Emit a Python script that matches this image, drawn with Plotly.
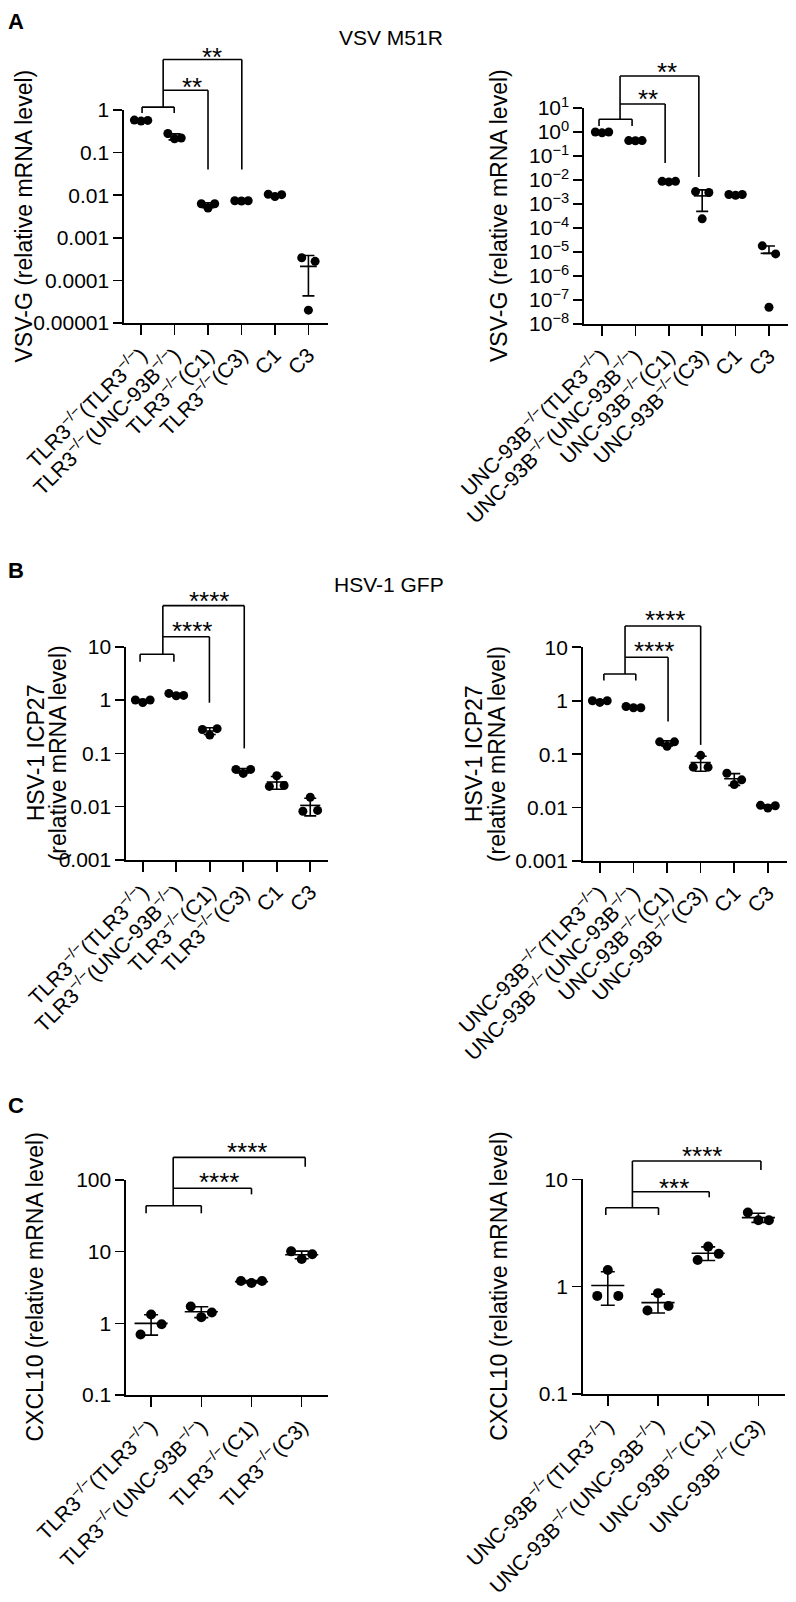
import numpy as np
import plotly.graph_objects as go

W, H = 796, 1602
FONT = "Liberation Sans, Arial, Helvetica, sans-serif"
INK = "black"
LW = 1.6

# ---------------- data ----------------
SUP = "<sup>−/−</sup>"
labels_tlr3 = [f"TLR3{SUP}(TLR3{SUP})", f"TLR3{SUP}(UNC-93B{SUP})",
               f"TLR3{SUP}(C1)", f"TLR3{SUP}(C3)", "C1", "C3"]
labels_unc = [f"UNC-93B{SUP}(TLR3{SUP})", f"UNC-93B{SUP}(UNC-93B{SUP})",
              f"UNC-93B{SUP}(C1)", f"UNC-93B{SUP}(C3)", "C1", "C3"]

# three replicates per group (left, centre, right dot)
vsv_tlr3 = [[0.58, 0.55, 0.57], [0.28, 0.21, 0.22], [0.0063, 0.0050, 0.0063],
            [0.0074, 0.0073, 0.0074], [0.0105, 0.0093, 0.0103], [0.00034, 0.00002, 0.00028]]
vsv_unc = [[1.0, 0.92, 1.0], [0.44, 0.43, 0.44], [0.0088, 0.0083, 0.0088],
           [0.0033, 0.00024, 0.0030], [0.0025, 0.0023, 0.0025], [1.8e-5, 5e-8, 8.3e-6]]
hsv_tlr3 = [[1.0, 0.9, 1.0], [1.33, 1.2, 1.22], [0.28, 0.22, 0.29],
            [0.05, 0.042, 0.05], [0.024, 0.038, 0.025], [0.0082, 0.015, 0.0085]]
hsv_unc = [[1.0, 0.93, 1.0], [0.78, 0.74, 0.74], [0.17, 0.14, 0.17],
           [0.057, 0.095, 0.057], [0.044, 0.027, 0.033], [0.011, 0.0098, 0.0108]]
cxcl_tlr3 = [[0.7, 1.33, 0.97], [1.72, 1.22, 1.42], [3.9, 3.65, 3.9], [10.1, 7.9, 9.2]]
cxcl_unc = [[0.82, 1.43, 0.82], [0.6, 0.87, 0.66], [1.77, 2.36, 2.02], [4.9, 4.15, 4.15]]

ticks_dec5 = [1e-5, 1e-4, 1e-3, 1e-2, 1e-1, 1]
ticks_dec5_text = ["0.00001", "0.0001", "0.001", "0.01", "0.1", "1"]
pow_exp = list(range(-8, 2))
ticks_pow = [10.0 ** k for k in pow_exp]
ticks_pow_text = [f"10<sup>{('−' + str(-k)) if k < 0 else k}</sup>" for k in pow_exp]
ticks_hsv = [1e-3, 1e-2, 1e-1, 1, 10]
ticks_hsv_text = ["0.001", "0.01", "0.1", "1", "10"]
ticks_c1 = [0.1, 1, 10, 100]
ticks_c1_text = ["0.1", "1", "10", "100"]
ticks_c2 = [0.1, 1, 10]
ticks_c2_text = ["0.1", "1", "10"]

# significance brackets: (xa, xb, xr, h0, leg0, h1, x3, leg1, h2, x4, leg2)
# stars: [(text, x, value)]
panels = [
    dict(data=vsv_tlr3, labels=labels_tlr3, yr=[-5, 0], tv=ticks_dec5, tt=ticks_dec5_text,
         xr=[-0.51, 5.57], px=[124, 327.5, 110, 323], title=["VSV-G (relative mRNA level)"], tx=[24],
         br=(0.03, 0.99, 0.66, 1.17, 0.85, 2.9, 2.0, 0.04, 15.3, 3.01, 0.04),
         stars=[("**", 1.52, 4.5), ("**", 2.12, 23)], mh=0.25, jit=0.2, cap=6, ms=9),
    dict(data=vsv_unc, labels=labels_unc, yr=[-8, 1], tv=ticks_pow, tt=ticks_pow_text,
         xr=[-0.54, 5.57], px=[584, 788, 108, 324], title=["VSV-G (relative mRNA level)"], tx=[499],
         br=(-0.09, 0.9, 0.54, 3.4, 1.78, 14.7, 1.89, 0.051, 215, 2.9, 0.0133),
         stars=[("**", 1.38, 38), ("**", 1.95, 515)], mh=0.25, jit=0.2, cap=6, ms=9),
    dict(data=hsv_tlr3, labels=labels_tlr3, yr=[-3, 1], tv=ticks_hsv, tt=ticks_hsv_text,
         xr=[-0.5, 5.53], px=[126, 328, 646.7, 860], title=["HSV-1 ICP27", "(relative mRNA level)"], tx=[36, 58],
         br=(-0.08, 0.93, 0.6, 7.2, 5.2, 15.4, 1.99, 0.89, 58.8, 3.03, 0.124),
         stars=[("****", 1.46, 24.5), ("****", 1.99, 89)], mh=0.3, jit=0.22, cap=6, ms=9),
    dict(data=hsv_unc, labels=labels_unc, yr=[-3, 1], tv=ticks_hsv, tt=ticks_hsv_text,
         xr=[-0.51, 5.56], px=[582.7, 786.7, 647.3, 861], title=["HSV-1 ICP27", "(relative mRNA level)"], tx=[474, 497],
         br=(0.12, 1.07, 0.75, 3.16, 2.38, 6.5, 2.03, 0.41, 25, 3.0, 0.149),
         stars=[("****", 1.62, 10.6), ("****", 1.93, 40)], mh=0.3, jit=0.22, cap=6, ms=9),
    dict(data=cxcl_tlr3, labels=labels_tlr3[:4], yr=[-1, 2], tv=ticks_c1, tt=ticks_c1_text,
         xr=[-0.5, 3.53], px=[126, 328.3, 1180, 1395], title=["CXCL10 (relative mRNA level)"], tx=[34],
         br=(-0.1, 1.0, 0.44, 43.8, 34.3, 76.6, 2.0, 63, 207, 3.07, 153),
         stars=[("****", 1.35, 109), ("****", 1.91, 291)], mh=0.33, jit=0.21, cap=7, ms=10),
    dict(data=cxcl_unc, labels=labels_unc[:4], yr=[-1, 1], tv=ticks_c2, tt=ticks_c2_text,
         xr=[-0.5, 3.53], px=[582.7, 785, 1179.3, 1394], title=["CXCL10 (relative mRNA level)"], tx=[499],
         br=(-0.04, 1.01, 0.49, 5.43, 4.65, 7.66, 2.02, 6.8, 14.8, 3.05, 12.2),
         stars=[("***", 1.31, 9.3), ("****", 1.88, 18.5)], mh=0.33, jit=0.21, cap=7, ms=10),
]

fig = go.Figure()
layout = dict(template="none", width=W, height=H, margin=dict(l=0, r=0, t=0, b=0, pad=0),
              autosize=False, paper_bgcolor="white", plot_bgcolor="white", showlegend=False,
              font=dict(family=FONT, color=INK))
shapes, annos = [], []

for i, p in enumerate(panels, start=1):
    sfx = "" if i == 1 else str(i)
    xa_name, ya_name = "x" + sfx, "y" + sfx
    l, r, t, b = p["px"]
    dx = [l / W, r / W]
    dy = [1 - b / H, 1 - t / H]
    layout["xaxis" + sfx] = dict(
        domain=dx, range=p["xr"], anchor=ya_name, automargin=False,
        tickmode="array", tickvals=list(range(len(p["labels"]))), ticktext=p["labels"],
        tickangle=-45, showline=True, linecolor=INK, linewidth=LW, ticks="outside",
        ticklen=10, tickwidth=LW, tickcolor=INK, showgrid=False, zeroline=False,
        tickfont=dict(size=21, family=FONT, color=INK), fixedrange=True)
    layout["yaxis" + sfx] = dict(
        domain=dy, type="log", range=p["yr"], anchor=xa_name, automargin=False,
        tickmode="array", tickvals=p["tv"], ticktext=p["tt"],
        showline=True, linecolor=INK, linewidth=LW, ticks="outside", ticklen=9,
        tickwidth=LW, tickcolor=INK, showgrid=False, zeroline=False,
        tickfont=dict(size=21, family=FONT, color=INK), fixedrange=True)

    data = p["data"]
    offs = [-p["jit"], 0.0, p["jit"]]
    xs, ys = [], []
    for g, vals in enumerate(data):
        for o, v in zip(offs, vals):
            xs.append(g + o)
            ys.append(v)
    means = [float(np.mean(v)) for v in data]
    sds = [float(np.std(v, ddof=1)) for v in data]
    minus = [s if m - s > 0 else 0.0 for m, s in zip(means, sds)]

    # mean lines
    mx, my = [], []
    for g, m in enumerate(means):
        mx += [g - p["mh"], g + p["mh"], None]
        my += [m, m, None]
    fig.add_trace(go.Scatter(x=mx, y=my, mode="lines", line=dict(color=INK, width=LW),
                             xaxis=xa_name, yaxis=ya_name, hoverinfo="skip"))
    # SD whiskers
    fig.add_trace(go.Scatter(x=list(range(len(data))), y=means, mode="markers",
                             marker=dict(size=1, opacity=0),
                             error_y=dict(type="data", symmetric=False, array=sds, arrayminus=minus,
                                          color=INK, thickness=LW, width=p["cap"]),
                             xaxis=xa_name, yaxis=ya_name, hoverinfo="skip"))
    # dots
    fig.add_trace(go.Scatter(x=xs, y=ys, mode="markers", marker=dict(color=INK, size=p["ms"]),
                             xaxis=xa_name, yaxis=ya_name, cliponaxis=False))

    # brackets: convert data coordinates to axis-domain / paper fractions
    x0r, x1r = p["xr"]
    y0r, y1r = p["yr"]
    fx = lambda x: (x - x0r) / (x1r - x0r)
    fy = lambda v: (np.log10(v) - y0r) / (y1r - y0r)
    xa, xb, xr_, h0, leg0, h1, x3, leg1, h2, x4, leg2 = p["br"]
    segs = [((xa, leg0), (xa, h0)), ((xa, h0), (xb, h0)), ((xb, h0), (xb, leg0)),
            ((xr_, h0), (xr_, h2)),
            ((xr_, h1), (x3, h1)), ((x3, h1), (x3, leg1)),
            ((xr_, h2), (x4, h2)), ((x4, h2), (x4, leg2))]
    for (ax, av), (bx, bv) in segs:
        shapes.append(dict(type="line", xref=xa_name + " domain", yref=ya_name + " domain",
                           x0=fx(ax), y0=fy(av), x1=fx(bx), y1=fy(bv),
                           line=dict(color=INK, width=LW)))
    for txt, sx, sv in p["stars"]:
        annos.append(dict(text=txt, x=dx[0] + fx(sx) * (dx[1] - dx[0]),
                          y=dy[0] + fy(sv) * (dy[1] - dy[0]), xref="paper", yref="paper",
                          showarrow=False, font=dict(size=26, family=FONT, color=INK),
                          xanchor="center", yanchor="middle", yshift=-5))
    # y-axis title(s)
    yc = 1 - (t + b) / 2 / H
    for txt, tx in zip(p["title"], p["tx"]):
        annos.append(dict(text=txt, x=tx / W, y=yc, xref="paper", yref="paper",
                          showarrow=False, textangle=-90, xanchor="center", yanchor="middle",
                          font=dict(size=23, family=FONT, color=INK)))

# panel letters and titles
for letter, yy in [("A", 21), ("B", 570), ("C", 1105)]:
    annos.append(dict(text=f"<b>{letter}</b>", x=6 / W, y=1 - yy / H, xref="paper", yref="paper",
                      showarrow=False, xanchor="left", yanchor="middle",
                      font=dict(size=22, family=FONT, color=INK)))
for txt, xx, yy in [("VSV M51R", 391, 37.5), ("HSV-1 GFP", 389, 584.5)]:
    annos.append(dict(text=txt, x=xx / W, y=1 - yy / H, xref="paper", yref="paper",
                      showarrow=False, xanchor="center", yanchor="middle",
                      font=dict(size=21, family=FONT, color=INK)))

layout["shapes"] = shapes
layout["annotations"] = annos
fig.update_layout(**layout)
fig.write_html("out.html", config={"displayModeBar": False, "staticPlot": True},
               post_script="document.body.style.margin='0px';document.body.style.overflow='hidden';")
